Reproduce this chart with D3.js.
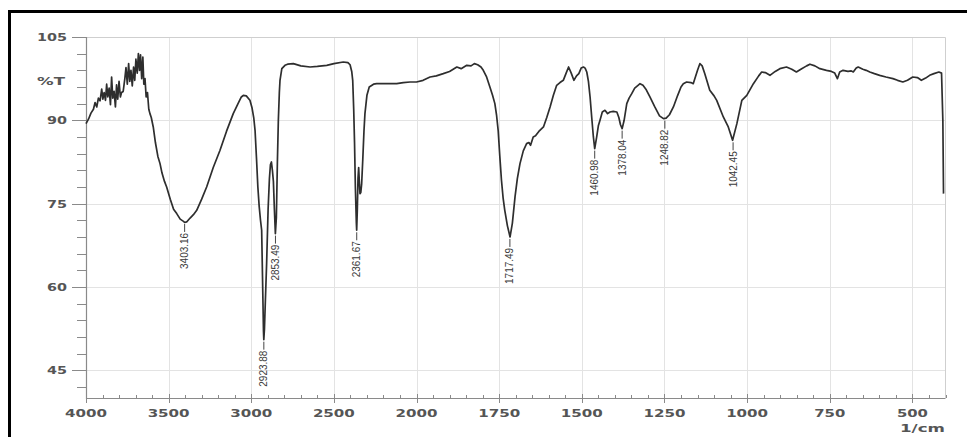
<!DOCTYPE html>
<html>
<head>
<meta charset="utf-8">
<script src="https://cdn.jsdelivr.net/npm/d3@7"></script>
<style>
  html, body { margin: 0; padding: 0; background: #fff; }
  svg { display: block; }
</style>
</head>
<body>
<svg width="967" height="437"></svg>
<script>
// wavenumber (1/cm) and transmittance (%T)
const wavenumbers = [
  4000, 3985, 3970, 3955, 3945, 3935, 3925, 3915, 3905, 3898, 3890, 3882, 3875, 3868, 3860, 3852,
  3845, 3838, 3830, 3822, 3815, 3808, 3800, 3792, 3785, 3775, 3765, 3758, 3750, 3742, 3735, 3728,
  3720, 3712, 3705, 3698, 3690, 3683, 3676, 3670, 3663, 3656, 3650, 3643, 3636, 3628, 3620, 3613,
  3605, 3593, 3580, 3565, 3552, 3540, 3525, 3512, 3490, 3470, 3451, 3430, 3410, 3403, 3391, 3370,
  3350, 3330, 3300, 3270, 3230, 3189, 3150, 3109, 3080, 3060, 3048, 3030, 3008, 2995, 2985, 2977,
  2968, 2960, 2952, 2944, 2937, 2932, 2926, 2924, 2920, 2914, 2907, 2898, 2890, 2884, 2878, 2872,
  2866, 2860, 2854, 2848, 2842, 2836, 2830, 2826, 2815, 2796, 2780, 2745, 2700, 2644, 2600, 2543,
  2500, 2443, 2415, 2402, 2392, 2386, 2380, 2375, 2370, 2364, 2362, 2358, 2354, 2350, 2346, 2342,
  2337, 2332, 2325, 2318, 2312, 2300, 2286, 2260, 2241, 2200, 2160, 2120, 2080, 2039, 2000, 1980,
  1959, 1940, 1919, 1900, 1878, 1865, 1848, 1835, 1825, 1815, 1805, 1798, 1788, 1778, 1770, 1763,
  1758, 1753, 1748, 1743, 1738, 1733, 1725, 1717, 1710, 1702, 1695, 1687, 1677, 1667, 1660, 1655,
  1647, 1640, 1630, 1616, 1606, 1596, 1586, 1576, 1566, 1556, 1548, 1540, 1532, 1524, 1516, 1509,
  1502, 1495, 1490, 1485, 1480, 1475, 1470, 1465, 1461, 1455, 1450, 1445, 1438, 1430, 1422, 1415,
  1405, 1394, 1388, 1383, 1378, 1372, 1364, 1357, 1349, 1340, 1330, 1324, 1315, 1305, 1294, 1280,
  1265, 1253, 1245, 1235, 1223, 1210, 1200, 1193, 1183, 1170, 1163, 1150, 1143, 1136, 1128, 1113,
  1100, 1092, 1072, 1057, 1044, 1031, 1016, 1001, 981, 965, 956, 945, 931, 915, 901, 881,
  865, 851, 835, 820, 810, 795, 780, 760, 745, 735, 727, 720, 710, 695, 685, 679,
  670, 664, 650, 640, 629, 615, 599, 580, 559, 545, 529, 515, 499, 485, 473, 460,
  448, 435, 420, 412, 408, 406
];
const transmittance = [
  89.4, 90.2, 91.3, 92.0, 93.2, 92.4, 94.0, 93.5, 95.6, 93.8, 95.0, 93.6, 96.5, 94.2, 95.8, 92.8,
  97.8, 94.0, 95.2, 92.4, 96.4, 93.8, 97.0, 94.2, 95.0, 95.2, 97.5, 99.5, 96.5, 100.2, 97.0, 99.0,
  96.2, 99.6, 97.2, 101.0, 98.5, 102.0, 99.0, 101.8, 97.5, 101.4, 96.5, 97.5, 94.2, 95.0, 92.0, 91.2,
  90.5, 88.8, 86.0, 83.5, 82.2, 80.5, 79.0, 78.0, 75.8, 74.0, 73.2, 72.2, 71.8, 71.6, 71.7, 72.4,
  73.0, 73.8, 75.8, 78.0, 81.5, 84.6, 88.0, 91.2, 93.0, 94.2, 94.5, 94.4, 93.6, 92.2, 90.5, 88.2,
  83.0, 78.0, 74.5, 72.0, 70.2, 62.0, 52.0, 50.5, 52.5, 58.0, 64.2, 74.0, 79.5, 82.0, 82.5, 81.0,
  79.0, 74.0, 69.6, 72.5, 82.2, 90.0, 95.0, 97.2, 99.3, 99.9, 100.1, 100.2, 99.8, 99.6, 99.7, 99.9,
  100.2, 100.5, 100.4, 100.0, 98.8, 97.2, 92.0, 86.0, 78.0, 71.5, 70.2, 74.0, 79.5, 81.5, 79.0, 76.8,
  77.0, 78.5, 83.0, 88.0, 91.2, 94.5, 96.0, 96.5, 96.6, 96.6, 96.6, 96.6, 96.8, 96.9, 96.9, 97.2,
  97.8, 98.0, 98.4, 98.8, 99.6, 99.3, 99.9, 99.8, 100.2, 100.0, 99.6, 99.0, 97.8, 96.0, 94.5, 93.0,
  91.0, 88.2, 83.5, 79.2, 76.0, 73.8, 71.0, 69.0, 71.5, 76.2, 79.5, 82.2, 84.5, 85.8, 86.0, 85.5,
  87.0, 87.2, 88.0, 88.8, 90.5, 92.4, 94.5, 96.3, 96.8, 97.2, 98.4, 99.6, 98.5, 97.2, 98.0, 98.4,
  99.4, 99.6, 99.4, 98.7, 97.0, 94.2, 90.5, 87.0, 84.9, 87.0, 89.0, 90.0, 91.5, 91.8, 91.2, 91.5,
  91.6, 91.5, 90.5, 89.2, 88.5, 90.0, 93.0, 94.0, 94.8, 95.8, 96.3, 96.6, 96.3, 95.5, 94.2, 92.5,
  90.8, 90.3, 90.4, 91.0, 92.4, 94.5, 96.0, 96.6, 96.9, 96.8, 96.6, 99.0, 100.2, 99.8, 98.4, 95.4,
  94.4, 93.6, 90.6, 88.8, 86.4, 89.4, 93.6, 94.5, 96.6, 98.0, 98.7, 98.6, 98.1, 98.8, 99.3, 99.6,
  99.2, 98.7, 99.3, 99.8, 100.1, 99.8, 99.3, 99.0, 98.8, 98.5, 97.5, 98.7, 99.0, 98.8, 98.9, 98.7,
  99.4, 99.6, 99.2, 99.0, 98.7, 98.4, 98.1, 97.8, 97.5, 97.2, 96.9, 97.2, 97.8, 97.7, 97.2, 97.6,
  98.1, 98.4, 98.7, 98.5, 90.0, 76.8
];

// labelled peaks
const peakLabels = ['3403.16', '2923.88', '2853.49', '2361.67', '1717.49', '1460.98', '1378.04', '1248.82', '1042.45'];
const peakWavenumbers = [3403.16, 2923.88, 2853.49, 2361.67, 1717.49, 1460.98, 1378.04, 1248.82, 1042.45];
const peakTransmittance = [71.7, 50.5, 69.6, 70.2, 69.0, 84.9, 88.5, 90.3, 86.4];

const xTickValues = [4000, 3500, 3000, 2500, 2000, 1750, 1500, 1250, 1000, 750, 500];
const yTickValues = [105, 90, 75, 60, 45];

const svg = d3.select('svg');
const plotLeft = 86, plotRight = 945.5, plotTop = 37, plotBottom = 398;

// 4000-2000 is drawn at half the scale of 2000-400
const x = d3.scaleLinear().domain([4000, 2000, 400]).range([plotLeft, 416.5, plotRight]);
const y = d3.scaleLinear().domain([40, 105]).range([plotBottom, plotTop]);
const px = (d) => Math.round(x(d)) + 0.5;
const py = (d) => Math.round(y(d)) + 0.5;

// outer frame
svg.append('rect')
  .attr('x', 9.5).attr('y', 11.5)
  .attr('width', 980).attr('height', 450)
  .attr('fill', 'none')
  .attr('stroke', '#000')
  .attr('stroke-width', 3);

// grid
const grid = svg.append('g').attr('stroke', '#e3e3e3').attr('stroke-width', 1);
grid.selectAll('line.v')
  .data(xTickValues.filter((d) => d !== 4000)).enter()
  .append('line')
  .attr('x1', px).attr('x2', px)
  .attr('y1', plotTop).attr('y2', plotBottom);
grid.selectAll('line.h')
  .data(yTickValues.filter((d) => d !== 105)).enter()
  .append('line')
  .attr('x1', plotLeft).attr('x2', plotRight)
  .attr('y1', py).attr('y2', py);

// plot border top/right
svg.append('path')
  .attr('d', `M${plotLeft},${plotTop + 0.5}H${plotRight}V${plotBottom}`)
  .attr('fill', 'none')
  .attr('stroke', '#cfcfcf');

// ticks
const minorX = d3.range(4000, 2000, -100).concat(d3.range(2000, 399, -50));
const minorY = d3.range(42, 105, 3);
const ticks = svg.append('g').attr('stroke', '#8a8a8a').attr('stroke-width', 1);
ticks.selectAll('line.mx')
  .data(minorX).enter()
  .append('line')
  .attr('x1', px).attr('x2', px)
  .attr('y1', plotBottom - 3).attr('y2', plotBottom);
ticks.selectAll('line.Mx')
  .data(xTickValues).enter()
  .append('line')
  .attr('x1', px).attr('x2', px)
  .attr('y1', plotBottom - 4).attr('y2', plotBottom + 5);
ticks.selectAll('line.my')
  .data(minorY).enter()
  .append('line')
  .attr('x1', plotLeft - 9).attr('x2', plotLeft)
  .attr('y1', py).attr('y2', py);
ticks.selectAll('line.My')
  .data(yTickValues).enter()
  .append('line')
  .attr('x1', plotLeft - 14).attr('x2', plotLeft)
  .attr('y1', py).attr('y2', py);

// axis lines
svg.append('path')
  .attr('d', `M${plotLeft + 0.5},${plotTop}V${plotBottom + 0.5}H${plotRight}`)
  .attr('fill', 'none')
  .attr('stroke', '#8a8a8a')
  .attr('stroke-width', 1.2);

// axis labels
const labelStyle = (sel) => sel
  .attr('font-family', 'DejaVu Sans, Verdana, sans-serif')
  .attr('font-weight', 'bold')
  .attr('font-size', 11)
  .attr('fill', '#555')
  .attr('lengthAdjust', 'spacingAndGlyphs');

svg.append('g').selectAll('text')
  .data(xTickValues).enter()
  .append('text')
  .call(labelStyle)
  .attr('x', (d) => x(d))
  .attr('y', 417)
  .attr('text-anchor', 'middle')
  .attr('textLength', (d) => (String(d).length === 4 ? 42 : 31))
  .text((d) => d);

svg.append('g').selectAll('text')
  .data(yTickValues).enter()
  .append('text')
  .call(labelStyle)
  .attr('x', 67)
  .attr('y', (d) => y(d) + 4)
  .attr('text-anchor', 'end')
  .attr('textLength', (d) => (String(d).length === 3 ? 30 : 20))
  .text((d) => d);

svg.append('text')
  .call(labelStyle)
  .attr('x', 65).attr('y', 85)
  .attr('text-anchor', 'end')
  .attr('textLength', 28)
  .text('%T');

svg.append('text')
  .call(labelStyle)
  .attr('x', 945).attr('y', 432)
  .attr('text-anchor', 'end')
  .attr('textLength', 45)
  .text('1/cm');

// spectrum
const points = wavenumbers.map((w, i) => [w, transmittance[i]]);
const line = d3.line()
  .x((d) => x(d[0]))
  .y((d) => y(d[1]));

svg.append('path')
  .datum(points)
  .attr('d', line)
  .attr('fill', 'none')
  .attr('stroke', '#2e2e2e')
  .attr('stroke-width', 1.7)
  .attr('stroke-linejoin', 'round');

// peak labels
const peaks = peakLabels.map((label, i) => ({ label, wn: peakWavenumbers[i], t: peakTransmittance[i] }));
const peakG = svg.append('g').selectAll('g')
  .data(peaks).enter()
  .append('g')
  .attr('transform', (d) => `translate(${x(d.wn)},${y(d.t)})`);

peakG.append('line')
  .attr('x1', 0).attr('x2', 0)
  .attr('y1', 2).attr('y2', 10)
  .attr('stroke', '#444')
  .attr('stroke-width', 1);

peakG.append('text')
  .attr('transform', 'translate(3.5,11) rotate(-90)')
  .attr('text-anchor', 'end')
  .attr('font-family', 'Liberation Sans Narrow, Liberation Sans, sans-serif')
  .attr('font-size', 10.5)
  .attr('fill', '#3a3a3a')
  .attr('textLength', 36)
  .attr('lengthAdjust', 'spacingAndGlyphs')
  .text((d) => d.label);
</script>
</body>
</html>
